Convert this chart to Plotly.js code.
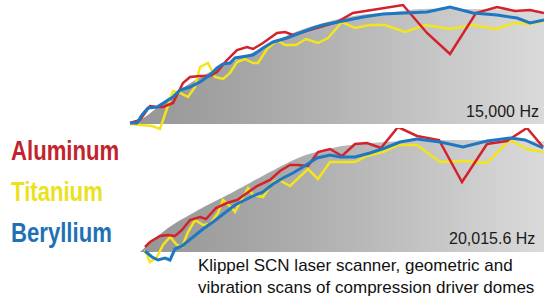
<!DOCTYPE html>
<html>
<head>
<meta charset="utf-8">
<script src="https://cdn.plot.ly/plotly-3.0.1.min.js"></script>
<style>html,body{margin:0;padding:0;background:#fff;}#chart{width:544px;height:298px;}</style>
</head>
<body>
<div id="chart"></div>
<script>
// Scan position (arbitrary units) and height above the dome base
// ---- 15,000 Hz panel ----
const topDomeX = [130,145,175,208,258,293,327,360,393,420,470,520,544];
const topDomeH = [0,7,31,51,74,91,102,109,112,115,115,114,112];

const topAlX = [130,140,150,157,163,173,183,190,200,210,217,227,237,247,253,263,277,285,293,303,320,337,353,373,403,427,450,476,497,515,530,544];
const topAlH = [1,4,18,17,17,21,41,47,48,48,52,64,74,77,75,81,91,92,89,92,97,102,111,114,119,91,70,111,117,113,114,111];

const topBeX = [130,137,142,148,157,163,173,180,190,200,210,217,223,230,235,247,253,263,273,287,300,313,323,343,363,383,410,427,450,473,497,517,530,544];
const topBeH = [1,1,9,16,17,21,27,34,37,42,49,56,60,61,66,68,69,76,82,86,91,96,99,103,107,110,111,112,117,111,109,106,101,104];

const topTiX = [130,140,152,160,170,173,180,188,195,200,208,215,223,230,237,245,253,258,267,277,285,296,306,318,328,342,355,370,385,405,425,450,473,496,514,529,544];
const topTiH = [0,-1,-2,-5,24,33,31,27,37,57,61,47,45,51,62,65,61,61,75,84,79,79,85,81,86,102,96,99,99,92,99,95,99,95,101,100,103];

// ---- 20,015.6 Hz panel ----
const botDomeX = [140,168,202,235,270,303,337,370,410,450,500,544];
const botDomeH = [0,24,44,61,80,96,105,109,111,112,112,111];

const botAlX = [145,150,160,168,175,182,190,200,206,216,227,237,247,257,270,280,290,298,308,318,330,342,355,367,381,398,417,439,462,487,507,527,543];
const botAlH = [5,10,16,17,16,22,32,35,33,44,49,52,59,66,72,81,87,87,86,100,103,96,108,109,104,125,116,112,70,108,111,124,105];

const botBeX = [145,152,158,165,170,175,182,192,203,213,223,235,243,253,263,273,283,293,303,317,330,340,355,370,385,400,417,440,463,487,510,525,543];
const botBeH = [1,-5,-8,-6,-8,3,6,14,23,30,38,47,51,56,60,68,74,79,85,94,97,95,95,99,104,110,113,110,105,111,114,112,104];

const botTiX = [145,150,157,163,170,177,182,188,195,203,210,218,223,232,235,243,248,253,263,273,279,290,308,318,330,342,355,367,383,398,417,440,463,487,510,527,543];
const botTiH = [2,-10,-5,7,15,7,5,20,32,27,28,39,52,44,40,55,64,57,55,70,72,66,83,73,90,90,90,96,100,107,107,90,91,89,112,103,100];

const materials = ["Aluminum","Titanium","Beryllium"];
const freqLabels = ["15,000 Hz","20,015.6 Hz"];
const caption = "Klippel SCN laser scanner, geometric and<br>vibration scans of compression driver domes";

const RED = "#d3222b", YEL = "#f2e51c", BLU = "#1f77c2";
const labelColors = ["#c3232c","#e9e21c","#1f71b6"];

function dome(x, h, xa, ya) {
  return {x: x, y: h, xaxis: xa, yaxis: ya, type: "scatter", mode: "lines",
    line: {width: 0, color: "rgba(0,0,0,0)", shape: "spline", smoothing: 0.8}, fill: "tozeroy",
    fillgradient: {type: "horizontal", colorscale: [[0,"#959595"],[0.4,"#adadad"],[1,"#dadada"]]},
    hoverinfo: "skip", showlegend: false};
}
function line(x, h, c, w, xa, ya) {
  return {x: x, y: h, xaxis: xa, yaxis: ya, type: "scatter", mode: "lines",
    line: {color: c, width: w}, showlegend: false, hoverinfo: "skip"};
}

const traces = [
  dome(topDomeX, topDomeH, "x", "y"),
  line(topTiX, topTiH, YEL, 2.5, "x", "y"),
  line(topAlX, topAlH, RED, 2.5, "x", "y"),
  line(topBeX, topBeH, BLU, 3, "x", "y"),
  dome(botDomeX, botDomeH, "x2", "y2"),
  line(botTiX, botTiH, YEL, 2.5, "x2", "y2"),
  line(botAlX, botAlH, RED, 2.5, "x2", "y2"),
  line(botBeX, botBeH, BLU, 3, "x2", "y2")
];

const W = 544, H = 298;
const px = v => v / W, py = v => 1 - v / H;
const hidden = {visible: false, fixedrange: true};

const labelFont = "Liberation Sans, Arial, sans-serif";
const annotations = [
  {text: materials[0], x: px(9), y: py(151), font: {family: labelFont, size: 27, color: labelColors[0], weight: 700}},
  {text: materials[1], x: px(9), y: py(192), font: {family: labelFont, size: 27, color: labelColors[1], weight: 700}},
  {text: materials[2], x: px(9), y: py(233), font: {family: labelFont, size: 27, color: labelColors[2], weight: 700}},
  {text: freqLabels[0], x: px(541), y: py(111), xanchor: "right", font: {family: "Liberation Sans, Arial, sans-serif", size: 16, color: "#1a1a1a"}},
  {text: freqLabels[1], x: px(537), y: py(238), xanchor: "right", font: {family: "Liberation Sans, Arial, sans-serif", size: 16, color: "#1a1a1a"}},
  {text: caption, x: px(196), y: py(276), align: "left", font: {family: "Liberation Sans, Arial, sans-serif", size: 17, color: "#111"}}
].map(a => Object.assign({xref: "paper", yref: "paper", showarrow: false, xanchor: "left", yanchor: "middle"}, a));

const layout = {
  width: W, height: H,
  margin: {l: 0, r: 0, t: 0, b: 0, pad: 0},
  paper_bgcolor: "#ffffff", plot_bgcolor: "rgba(0,0,0,0)",
  showlegend: false,
  xaxis: Object.assign({range: [0, 544], domain: [0, 1], anchor: "y"}, hidden),
  yaxis: Object.assign({range: [-10, 124], domain: [1 - 134 / H, 1], anchor: "x"}, hidden),
  xaxis2: Object.assign({range: [0, 544], domain: [0, 1], anchor: "y2"}, hidden),
  yaxis2: Object.assign({range: [-14, 124], domain: [(H - 266) / H, (H - 128) / H], anchor: "x2"}, hidden),
  annotations: annotations
};

Plotly.newPlot("chart", traces, layout, {staticPlot: true, displayModeBar: false}).then(gd => {
  // condensed look for the material labels
  gd.querySelectorAll(".annotation-text").forEach(t => {
    if (materials.indexOf(t.textContent) >= 0) {
      const bb = t.getBBox();
      const x0 = bb.x;
      t.setAttribute("transform", "translate(" + x0 + ",0) scale(0.82,1) translate(" + (-x0) + ",0)");
    }
  });
});
</script>
</body>
</html>
